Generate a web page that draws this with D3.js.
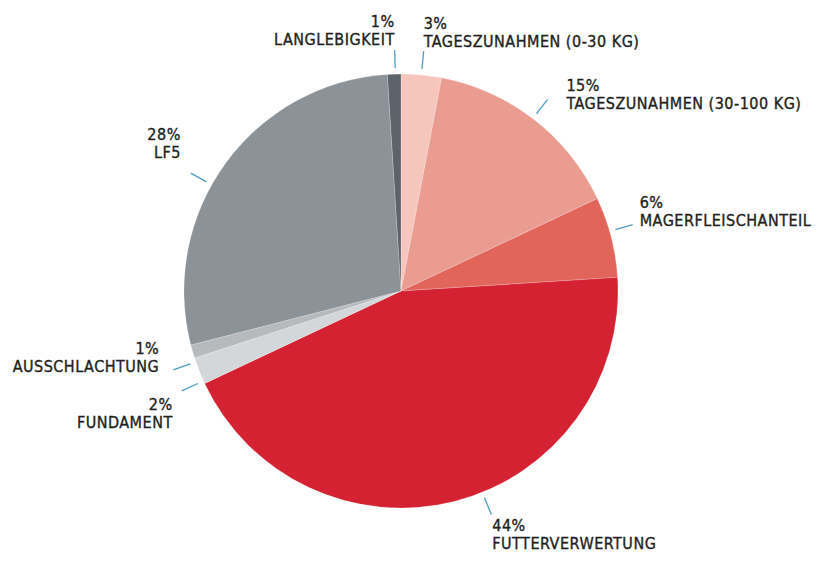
<!DOCTYPE html>
<html>
<head>
  <meta charset="utf-8">
  <script src="https://cdn.jsdelivr.net/npm/d3@7"></script>
  <style>
    body { margin: 0; background: #ffffff; }
  </style>
</head>
<body>
  <svg width="823" height="563" id="mainsvg"></svg>
  <script>
    // data, clockwise from 12 o'clock
    const categories = ['TAGESZUNAHMEN (0-30 KG)', 'TAGESZUNAHMEN (30-100 KG)', 'MAGERFLEISCHANTEIL',
      'FUTTERVERWERTUNG', 'FUNDAMENT', 'AUSSCHLACHTUNG', 'LF5', 'LANGLEBIGKEIT'];
    const shares = [3, 15, 6, 44, 2, 1, 28, 1];
    const colors = ['#f6c6bd', '#ea9c90', '#e1655a', '#d42232', '#d4d7d9', '#b7babd', '#8b9298', '#5c636a'];

    // label layout: leader angle (deg, clockwise from top), text anchor and offset from leader end
    const labelAngle = [5.4, 37.4, 74, 158, 245.5, 250.9, 299.3, 358.5];
    const labelAnchor = ['start', 'start', 'start', 'start', 'end', 'end', 'end', 'end'];
    const labelDx = [0, 19, 7, 1, -9, -14, -10, 0];
    const labelDy = [-22, -9, -17, 17, 19, -16, -33, -23];

    const svg = d3.select('#mainsvg');
    const cx = 401, cy = 291, radius = 217;
    const g = svg.append('g').attr('transform', `translate(${cx}, ${cy})`);

    const data = categories.map((c, i) => ({ name: c, value: shares[i], color: colors[i], i: i }));

    const pie = d3.pie().sort(null).value(d => d.value);
    const arc = d3.arc().innerRadius(0).outerRadius(radius);
    const arcs = pie(data);

    g.selectAll('path.slice').data(arcs).enter().append('path')
      .attr('class', 'slice')
      .attr('d', arc)
      .attr('fill', d => d.data.color)
      .attr('stroke', 'rgba(255,255,255,0.35)')
      .attr('stroke-width', 0.6);

    const pt = (deg, r) => {
      const a = deg * Math.PI / 180;
      return [Math.sin(a) * r, -Math.cos(a) * r];
    };

    const labels = g.selectAll('g.label').data(data).enter().append('g').attr('class', 'label');

    labels.append('line')
      .attr('x1', d => pt(labelAngle[d.i], radius + 6)[0])
      .attr('y1', d => pt(labelAngle[d.i], radius + 6)[1])
      .attr('x2', d => pt(labelAngle[d.i], radius + 24)[0])
      .attr('y2', d => pt(labelAngle[d.i], radius + 24)[1])
      .attr('stroke', '#4f9cc2')
      .attr('stroke-width', 1.3);

    const txt = labels.append('text')
      .attr('text-anchor', d => labelAnchor[d.i])
      .attr('font-family', '"Liberation Sans Narrow", "DejaVu Sans Condensed", "Roboto", sans-serif')
      .attr('font-size', 16)
      .attr('letter-spacing', 0.5)
      .attr('fill', '#231f20')
      .attr('stroke', '#231f20')
      .attr('stroke-width', 0.35)
      .attr('transform', d => {
        const p = pt(labelAngle[d.i], radius + 24);
        return `translate(${p[0] + labelDx[d.i]}, ${p[1] + labelDy[d.i]})`;
      });

    txt.append('tspan').attr('x', 0).attr('y', 0).text(d => d.value + '%');
    txt.append('tspan').attr('x', 0).attr('y', 18).text(d => d.name);
  </script>
</body>
</html>
